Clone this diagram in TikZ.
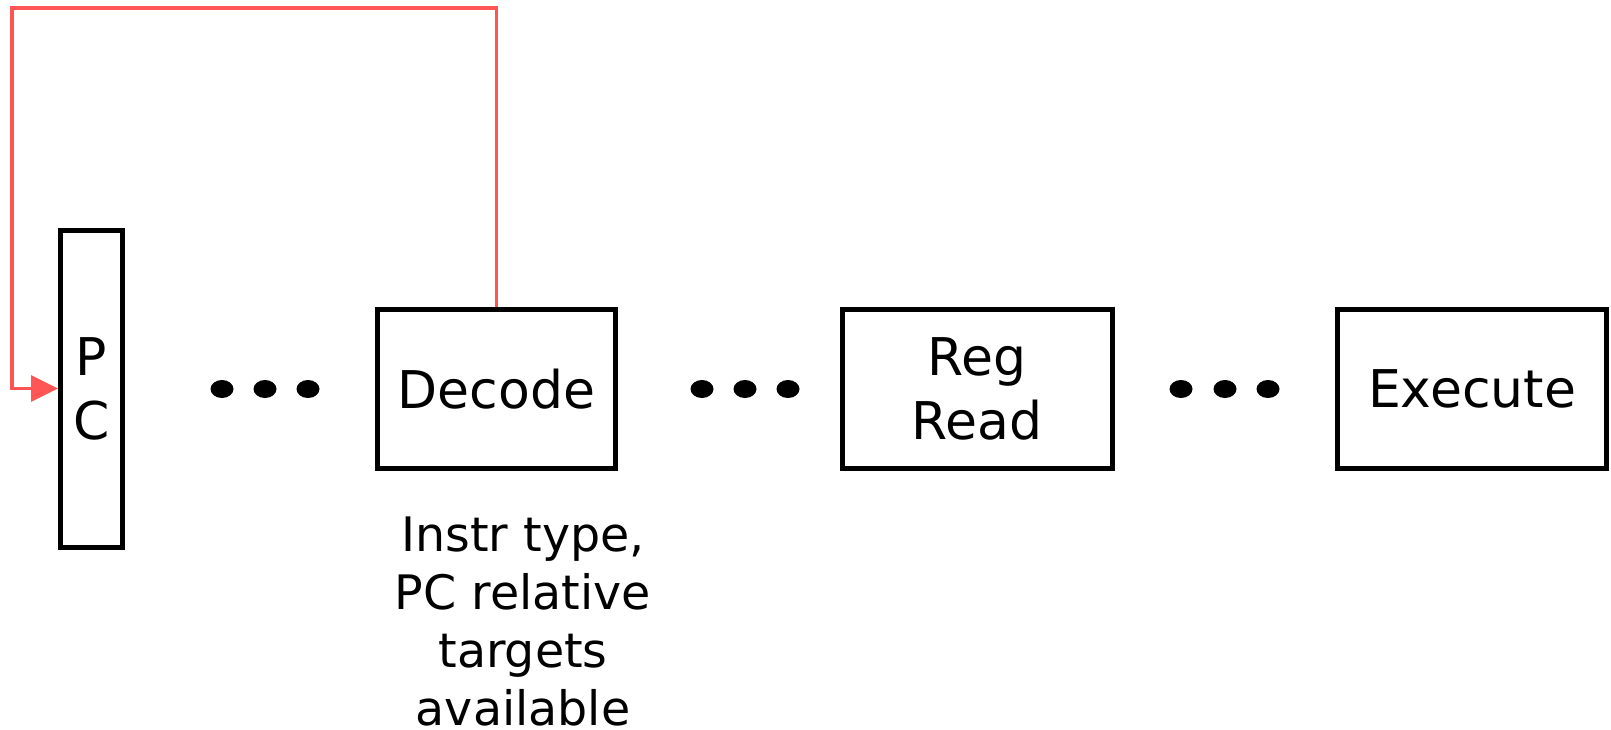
\documentclass[tikz,border=0pt]{standalone}
\usepackage{fontspec}
\setmainfont{DejaVu Sans}
\usetikzlibrary{arrows.meta}
\definecolor{fbred}{RGB}{255,85,85}
\begin{document}
\begin{tikzpicture}[x=1pt,y=-1pt,
  stage/.style={draw=black,line width=5pt,rectangle,inner sep=0pt,align=center,
    font=\fontsize{52}{64}\selectfont},
  note/.style={align=center,inner sep=0pt,font=\fontsize{47.5}{58}\selectfont},
  fb/.style={draw=fbred,line width=3.5pt,-{Triangle[length=27pt,width=26pt]}}]
\useasboundingbox (0,0) rectangle (1611,729);
\node[stage,minimum width=62pt,minimum height=317pt] (pc) at (91.5,388.5) {P\\C};
\node[stage,minimum width=238pt,minimum height=159pt] (dec) at (496.5,389) {Decode};
\node[stage,minimum width=270pt,minimum height=159pt] (rr) at (977,389) {Reg\\Read};
\node[stage,minimum width=269pt,minimum height=159pt] (ex) at (1472,389) {Execute};
\foreach \x in {222,265,308,702,745,788,1181,1225,1268}
  \fill (\x,389) ellipse [x radius=11.5pt,y radius=9pt];
\node[note,anchor=north] (lbl) at (523,517) {Instr type,\\PC relative\\targets\\available};
\coordinate (tr) at (496.5,8);
\coordinate (tl) at (12,8);
\coordinate (bl) at (12,388.5);
\draw[fb] (dec.north) -- (tr) -- (tl) -- (bl) -- (pc.west);
\end{tikzpicture}
\end{document}
